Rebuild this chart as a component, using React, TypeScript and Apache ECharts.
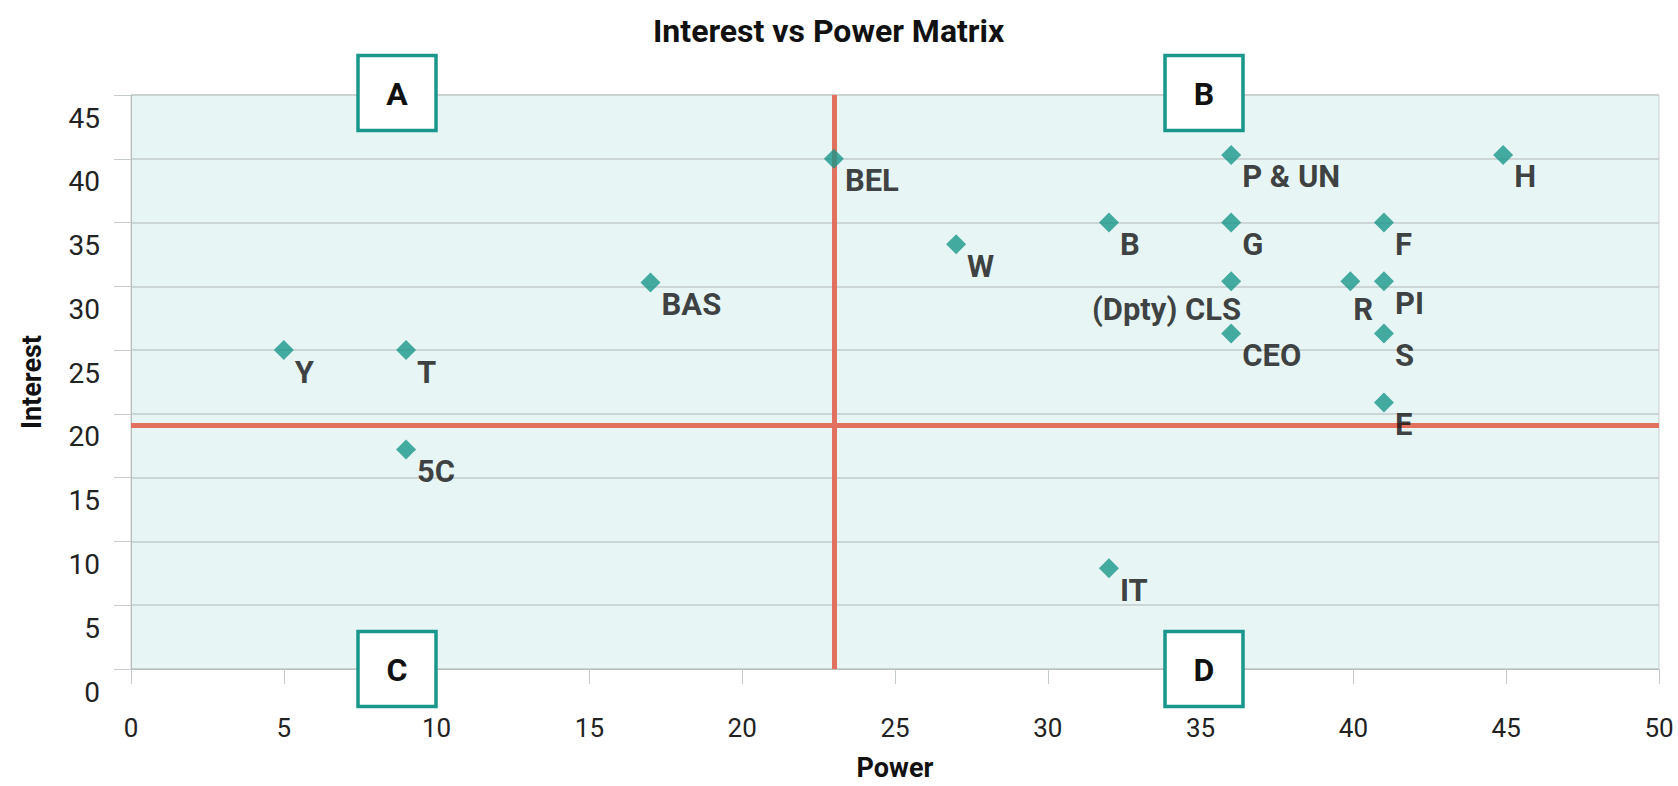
import React, { useEffect, useRef } from "react";
import * as echarts from "echarts";

const FONT = "Roboto, 'Liberation Sans', sans-serif";

const stakeholders = ["Y", "T", "5C", "BAS", "BEL", "W", "B", "IT", "P & UN", "G", "(Dpty) CLS", "CEO", "H", "F", "R", "PI", "S", "E"];
const powerValues = [5, 9, 9, 17, 23, 27, 32, 32, 36, 36, 36, 36, 44.9, 41, 39.9, 41, 41, 41];
const interestValues = [25, 25, 17.2, 30.3, 40, 33.3, 35, 7.9, 40.3, 35, 30.4, 26.3, 40.3, 35, 30.4, 30.4, 26.3, 20.9];

const powerThreshold = 23;
const interestThreshold = 19.1;

const xTicks = { min: 0, max: 50, interval: 5 };
const yTicks = { min: 0, max: 45, interval: 5 };

const quadrantLetters = ["A", "B", "C", "D"];

const TEAL = "#1a978b";
const RED = "#e2705f";

export default function App() {
  const ref = useRef<HTMLDivElement>(null);

  useEffect(() => {
    if (!ref.current) return;
    const chart = echarts.init(ref.current, null, { renderer: "svg" });

    const data = stakeholders.map((name, i) => {
      const item: any = { name, value: [powerValues[i], interestValues[i]] };
      if (name === "(Dpty) CLS") {
        item.label = { position: [20, 38], align: "right" };
      } else if (name === "R") {
        item.label = { position: [13, 38] };
      }
      return item;
    });

    // quadrant box positions (pixel annotations)
    const boxCenters = [
      [397, 93],
      [1204, 93],
      [397, 669],
      [1204, 669],
    ];
    const boxW = 78;
    const boxH = 75;

    const graphics: any[] = quadrantLetters.map((letter, i) => ({
      type: "group",
      x: boxCenters[i][0],
      y: boxCenters[i][1],
      z: 100,
      children: [
        {
          type: "rect",
          shape: { x: -boxW / 2, y: -boxH / 2, width: boxW, height: boxH },
          style: { fill: "#ffffff", stroke: TEAL, lineWidth: 3.5 },
          z: 100,
        },
        {
          type: "text",
          x: 0,
          y: 1,
          z: 101,
          style: {
            text: letter,
            fontFamily: FONT,
            fontWeight: "bold",
            fontSize: 32,
            fill: "#111111",
            align: "center",
            verticalAlign: "middle",
          },
        },
      ],
    }));

    chart.setOption({
      animation: false,
      backgroundColor: "#ffffff",
      title: {
        text: "Interest vs Power Matrix",
        left: 648,
        top: 10,
        textStyle: { fontFamily: FONT, fontWeight: "bold", fontSize: 32, color: "#111111" },
      },
      grid: {
        left: 131,
        right: 19,
        top: 95,
        bottom: 113,
        show: true,
        backgroundColor: "#e7f5f5",
        borderColor: "#c9cfcf",
        borderWidth: 1,
      },
      xAxis: {
        type: "value",
        min: xTicks.min,
        max: xTicks.max,
        interval: xTicks.interval,
        name: "Power",
        nameLocation: "middle",
        nameGap: 85,
        nameTextStyle: { fontFamily: FONT, fontWeight: "bold", fontSize: 27, color: "#111111" },
        axisLine: { show: true, onZero: false, lineStyle: { color: "#b8bebe", width: 1 } },
        axisTick: { show: true, length: 15, lineStyle: { color: "#c5cbcb" } },
        axisLabel: { margin: 46, fontFamily: FONT, fontSize: 26, color: "#222222" },
        splitLine: { show: false },
      },
      yAxis: {
        type: "value",
        min: yTicks.min,
        max: yTicks.max,
        interval: yTicks.interval,
        name: "Interest",
        nameLocation: "middle",
        nameRotate: 90,
        nameGap: 86,
        nameTextStyle: { fontFamily: FONT, fontWeight: "bold", fontSize: 27, color: "#111111" },
        axisLine: { show: true, onZero: false, lineStyle: { color: "#b8bebe", width: 1 } },
        axisTick: { show: true, length: 17, lineStyle: { color: "#c5cbcb" } },
        axisLabel: {
          margin: 31,
          fontFamily: FONT,
          fontSize: 28,
          color: "#222222",
          verticalAlign: "top",
          padding: [9, 0, 0, 0],
        },
        splitLine: { show: true, lineStyle: { color: "#c5cbcb", width: 1.5 } },
      },
      series: [
        {
          type: "scatter",
          symbol: "diamond",
          symbolSize: 20,
          itemStyle: { color: TEAL },
          label: {
            show: true,
            formatter: "{b}",
            position: [21, 32],
            align: "left",
            verticalAlign: "middle",
            fontFamily: FONT,
            fontWeight: "bold",
            fontSize: 31,
            color: "#111111",
          },
          data,
          markLine: {
            silent: true,
            symbol: ["none", "none"],
            label: { show: false },
            lineStyle: { color: RED, width: 5, type: "solid" },
            z: 1,
            data: [{ xAxis: powerThreshold }, { yAxis: interestThreshold }],
          },
          z: 3,
        },
      ],
      graphic: graphics,
    });

    return () => chart.dispose();
  }, []);

  return (
    <div
      ref={ref}
      style={{ position: "fixed", left: 0, top: 0, width: 1678, height: 786 }}
    />
  );
}
